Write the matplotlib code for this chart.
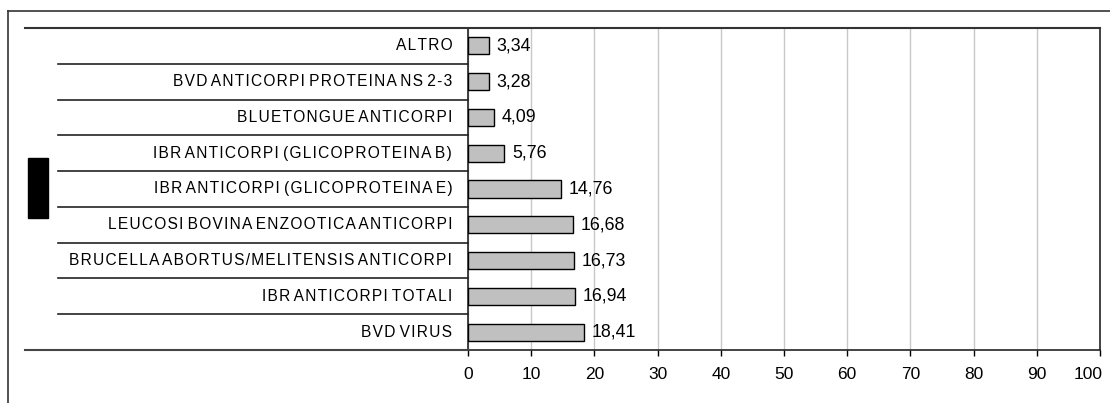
import matplotlib.pyplot as plt
import matplotlib.transforms as mtransforms
import numpy as np
from matplotlib.lines import Line2D
from matplotlib.patches import Rectangle

plt.rcParams['font.family'] = ['Liberation Sans', 'DejaVu Sans']

categories = ['BVD VIRUS', 'IBR ANTICORPI TOTALI',
              'BRUCELLA ABORTUS/MELITENSIS ANTICORPI',
              'LEUCOSI BOVINA ENZOOTICA ANTICORPI',
              'IBR ANTICORPI (GLICOPROTEINA E)',
              'IBR ANTICORPI (GLICOPROTEINA B)',
              'BLUETONGUE ANTICORPI',
              'BVD ANTICORPI PROTEINA NS 2-3',
              'ALTRO']
values = [18.41, 16.94, 16.73, 16.68, 14.76, 5.76, 4.09, 3.28, 3.34]
xticks = [0, 10, 20, 30, 40, 50, 60, 70, 80, 90, 100]

W, H = 1110, 403
fig = plt.figure(figsize=(W / 100, H / 100), dpi=100)
ax = fig.add_axes([468 / W, 1 - 350 / H, (1100 - 468) / W, (350 - 28) / H])

y = np.arange(len(categories))
ax.barh(y, values, height=0.48, color='#c0c0c0', edgecolor='black', linewidth=1, zorder=3)
for yi, v in zip(y, values):
    ax.text(v + 1.2, yi, f'{v:.2f}'.replace('.', ','), va='center', ha='left', fontsize=12.8)

ax.set_xlim(0, 100)
ax.set_ylim(-0.5, len(categories) - 0.5)
ax.set_xticks(xticks)
ax.set_xticklabels([str(t) for t in xticks], fontsize=12.5)
ax.tick_params(axis='x', direction='out', length=4, width=1, pad=8)
ax.set_yticks([])
ax.xaxis.grid(True, color='#c8c8c8', linewidth=1, zorder=0)

# last label kept inside the picture, as in the original
last = ax.get_xticklabels()[-1]
last.set_ha('right')
last.set_transform(last.get_transform() + mtransforms.ScaledTranslation(3 / 100, 0, fig.dpi_scale_trans))

for s in ['left', 'right', 'bottom']:
    ax.spines[s].set_linewidth(1.2)
    ax.spines[s].set_color('#222222')
ax.spines['top'].set_visible(False)


def spaced(s):
    # wide letter spacing like the original export
    words = s.split(' ')
    return ' '.join('\u200a'.join(w) for w in words)


# category labels (outside axes, left)
for yi, c in zip(y, categories):
    ax.text(-0.025, yi, spaced(c), transform=ax.get_yaxis_transform(),
            ha='right', va='center', fontsize=11.2)


def fx(px):
    return px / W


def fy(py):
    return 1 - py / H


# separators between categories
band = (350 - 28) / len(categories)
for k in range(1, len(categories)):
    py = 28 + k * band
    fig.add_artist(Line2D([fx(58), fx(468)], [fy(py), fy(py)], color='#222222', lw=1.2))
# top and bottom long lines
fig.add_artist(Line2D([fx(25), fx(1100)], [fy(28), fy(28)], color='#333333', lw=1.5))
fig.add_artist(Line2D([fx(25), fx(468)], [fy(350), fy(350)], color='#444444', lw=1.5))

# outer frame
fig.add_artist(Line2D([fx(8), fx(1110)], [fy(11), fy(11)], color='#333333', lw=1.2))
fig.add_artist(Line2D([fx(8), fx(8)], [fy(11), fy(403)], color='#333333', lw=1.2))

# black block at left
fig.add_artist(Rectangle((fx(28), fy(218)), fx(48) - fx(28), fy(158) - fy(218), color='black'))

fig.savefig('out.png', dpi=100)
